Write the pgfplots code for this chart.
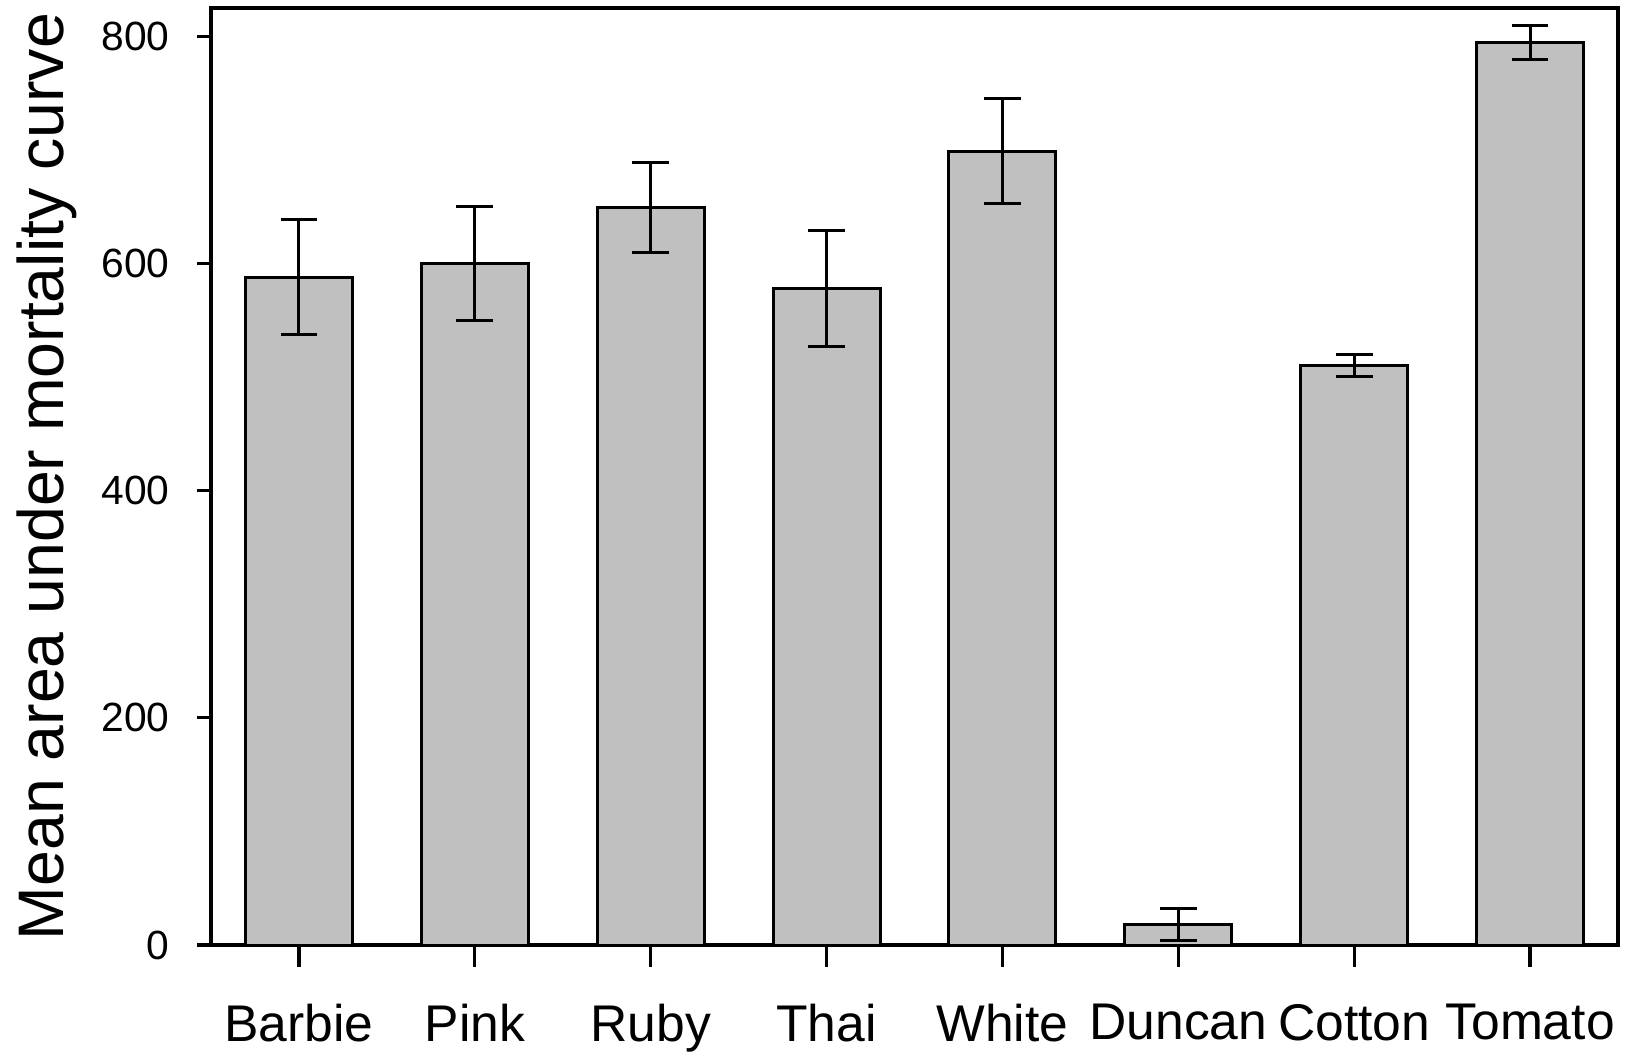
\documentclass[border=0pt]{standalone}
\usepackage{fontspec}
\setmainfont{Liberation Sans}
\usepackage{pgfplots}
\pgfplotsset{compat=1.18}
\begin{document}
\begin{tikzpicture}
\begin{axis}[
  name=ax,
  scale only axis,
  width=351.75pt, height=234.25pt,
  xmin=-0.5, xmax=7.5, ymin=0, ymax=825,
  axis line style={line width=0.9pt},
  tick style={line width=0.8pt, black},
  tick align=outside,
  x tick style={/pgfplots/major tick length=5.5pt},
  y tick style={/pgfplots/major tick length=3.5pt},
  xtick={0,...,7},
  xticklabels={Barbie,Pink,Ruby,Thai,White,Duncan,Cotton,Tomato},
  ytick={0,200,400,600,800},
  xtick pos=bottom, ytick pos=left,
  /pgf/number format/assume math mode=true,
  xticklabel style={font=\fontsize{12.9pt}{14pt}\selectfont, yshift=-7pt},
  yticklabel style={font=\fontsize{10.2pt}{12pt}\selectfont, xshift=-2.6pt},
  ylabel={Mean area under mortality curve},
  ylabel style={font=\fontsize{16.1pt}{18pt}\selectfont, at={(axis description cs:-0.1164,0.5)}, anchor=center},
]
\addplot[ybar, bar width=0.608, fill={rgb,255:red,192;green,192;blue,192}, draw=black, line width=0.75pt,
  error bars/.cd, y dir=both, y explicit,
  error bar style={line width=0.75pt, black},
  error mark options={line width=0.75pt, mark size=4.6pt, rotate=90}]
coordinates {
 (0,588) +- (0,50.5)
 (1,600) +- (0,50)
 (2,649.5) +- (0,39.5)
 (3,578) +- (0,51)
 (4,699) +- (0,46)
 (5,18) +- (0,14)
 (6,510) +- (0,9.5)
 (7,795) +- (0,15)
};
\end{axis}
\pgfresetboundingbox
\path (ax.south west) ++(-52.75pt,-26.5pt) rectangle ++(409pt,262.75pt);
\end{tikzpicture}
\end{document}
